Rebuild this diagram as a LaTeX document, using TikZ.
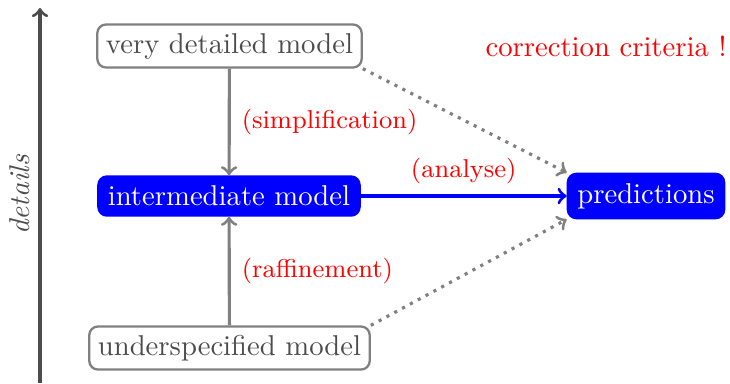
\documentclass[tikz,border=0pt]{standalone}
\usetikzlibrary{arrows}

\begin{document}
\begin{tikzpicture}[x=0.3486pt, y=-0.3486pt,
		model/.style={draw=gray, thick, rounded corners=3pt, inner sep=3pt, text=black!70, fill=white},
		bluemodel/.style={draw=blue, fill=blue, thick, rounded corners=3pt, inner sep=3.3pt, text=white},
		step label/.style={text=red, font=\small},
		link/.style={line width=1.1pt, gray, ->, >=to},
		hint/.style={line width=1.1pt, gray, dotted, ->, >=to}]
			%%%%% START %%%%%
			
			\useasboundingbox (0, 0) rectangle (730, 383);
			
			% axis
			\coordinate (axislow) at (40, 383);
			\coordinate (axishigh) at (40, 8);
			\draw[line width=1.1pt, black!70, ->, >=to] (axislow) -- (axishigh);
			\node[rotate=90, text=black!70] (axislabel) at (20, 195) {\itshape details};
			
			% models
			\node[model] (detailed) at (229.5, 46) {very detailed model};
			\node[bluemodel] (inter) at (229, 196) {intermediate model};
			\node[model] (under) at (229.5, 348) {underspecified model};
			\node[bluemodel] (pred) at (646, 196) {predictions};
			
			\node[text=red] (criteria) at (606, 46) {correction criteria !};
			
			% links
			\draw[link] (detailed) -- (inter) node[step label, midway, right=0.5pt] (simpl) {(simplification)};
			\draw[link] (under) -- (inter) node[step label, midway, right=0.5pt] (raff) {(raffinement)};
			\draw[line width=1.1pt, blue, ->, >=to] (inter) -- (pred) node[step label, midway, above=0.5pt] (analyse) {(analyse)};
			
			\draw[hint] (detailed.south east) -- (pred.north west);
			\draw[hint] (under.north east) -- (pred.south west);
			
			%%%%% END %%%%%
\end{tikzpicture}
\end{document}
